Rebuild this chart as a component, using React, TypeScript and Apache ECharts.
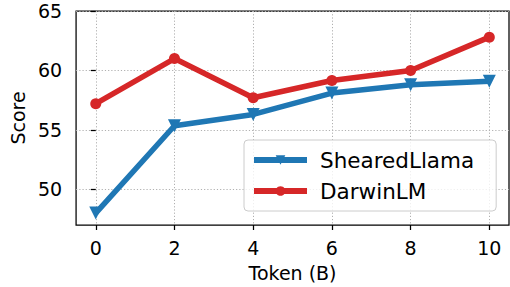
import React, { useEffect, useRef } from "react";
import * as echarts from "echarts";

const tokens = [0, 2, 4, 6, 8, 10];
const shearedLlama = [48.0, 55.35, 56.3, 58.1, 58.8, 59.1];
const darwinLM = [57.2, 61.0, 57.7, 59.15, 60.0, 62.8];
const xTicks = [0, 2, 4, 6, 8, 10];
const yTicks = [50, 55, 60, 65];

const FONT = "DejaVu Sans";

export default function App() {
  const ref = useRef<HTMLDivElement>(null);
  useEffect(() => {
    if (!ref.current) return;
    const chart = echarts.init(ref.current, null, { renderer: "svg" });
    const gridLine = { show: true, lineStyle: { color: "#b0b0b0", width: 1, type: [1.2, 2] as any } };
    chart.setOption({
      animation: false,
      backgroundColor: "#ffffff",
      grid: {
        left: 72,
        top: 11,
        width: 437,
        height: 216,
        show: true,
        borderColor: "#000000",
        borderWidth: 1.25,
        backgroundColor: "transparent",
      },
      xAxis: {
        type: "value",
        min: -0.5,
        max: 10.5,
        name: "Token (B)",
        nameLocation: "middle",
        nameGap: 38,
        nameTextStyle: { fontFamily: FONT, fontSize: 19, color: "#000" },
        axisLine: { show: false },
        axisTick: { show: true, inside: false, length: 5, customValues: xTicks, lineStyle: { color: "#000", width: 1.25 } },
        axisLabel: { customValues: xTicks, margin: 13, fontFamily: FONT, fontSize: 19, color: "#000" },
        splitLine: gridLine,
      },
      yAxis: {
        type: "value",
        min: 47,
        max: 65,
        name: "Score",
        nameLocation: "middle",
        nameRotate: 90,
        nameGap: 47,
        nameTextStyle: { fontFamily: FONT, fontSize: 19, color: "#000" },
        axisLine: { show: false },
        axisTick: { show: true, inside: false, length: 5, customValues: yTicks, lineStyle: { color: "#000", width: 1.25 } },
        axisLabel: { customValues: yTicks, margin: 14, fontFamily: FONT, fontSize: 19, color: "#000" },
        splitLine: gridLine,
      },
      legend: {
        left: 244,
        top: 140,
        orient: "vertical",
        itemWidth: 53,
        itemHeight: 12,
        itemGap: 9,
        padding: [9, 22, 9, 7],
        backgroundColor: "rgba(255,255,255,0.8)",
        borderColor: "#cccccc",
        borderWidth: 1,
        borderRadius: 4,
        lineStyle: { width: 6 },
        textStyle: { fontFamily: FONT, fontSize: 21.5, color: "#000", padding: [0, 0, 0, 8] },
        data: ["ShearedLlama", "DarwinLM"],
      },
      series: [
        {
          name: "ShearedLlama",
          type: "line",
          data: tokens.map((t, i) => [t, shearedLlama[i]]),
          color: "#1f77b4",
          lineStyle: { width: 5.5, color: "#1f77b4" },
          itemStyle: { color: "#1f77b4" },
          symbol: "triangle",
          symbolRotate: 180,
          symbolSize: 13,
          showAllSymbol: true,
          z: 3,
        },
        {
          name: "DarwinLM",
          type: "line",
          data: tokens.map((t, i) => [t, darwinLM[i]]),
          color: "#d62728",
          lineStyle: { width: 5.5, color: "#d62728" },
          itemStyle: { color: "#d62728" },
          symbol: "circle",
          symbolSize: 11,
          showAllSymbol: true,
          z: 3,
        },
      ],
    });
    return () => chart.dispose();
  }, []);
  return <div ref={ref} style={{ width: 510, height: 287, position: "absolute", left: 0, top: 0 }} />;
}
